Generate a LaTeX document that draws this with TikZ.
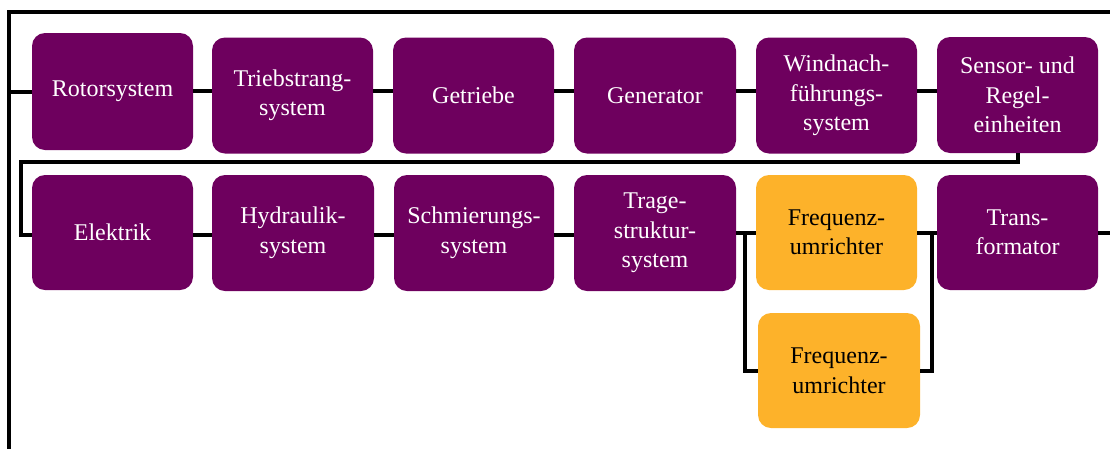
\documentclass[tikz,border=0pt]{standalone}
\usepackage{fontspec}
\setmainfont{Liberation Serif}
\definecolor{boxpurple}{RGB}{110,0,94}
\definecolor{boxorange}{RGB}{253,178,42}
\tikzset{
  unit/.style={rounded corners=13pt, inner sep=0pt, align=center,
    minimum width=161pt, minimum height=116pt,
    font=\fontsize{24}{29.5}\selectfont},
  mainunit/.style={unit, fill=boxpurple, text=white},
  altunit/.style={unit, fill=boxorange, text=black},
  link/.style={line width=4pt, black}
}
\begin{document}
\begin{tikzpicture}[x=1pt, y=-1pt]
\useasboundingbox (0,0) rectangle (1110,448);

% first row
\node[mainunit, minimum height=117pt] (rotor) at (112.5,91.5) {Rotorsystem};
\node[mainunit] (trieb) at (292.5,95.5) {Triebstrang-\\system};
\node[mainunit] (getr)  at (473.5,95.5) {Getriebe};
\node[mainunit, minimum width=162pt] (gen) at (655,95.5) {Generator};
\node[mainunit] (wind)  at (836.5,95.5) {Windnach-\\führungs-\\system};
\node[mainunit] (sens)  at (1017.5,95) {Sensor- und\\Regel-\\einheiten};

% second row
\node[mainunit, minimum height=115pt] (elek) at (112.5,232.5) {Elektrik};
\node[mainunit, minimum width=162pt] (hydr) at (293,233) {Hydraulik-\\system};
\node[mainunit, minimum width=160pt] (schm) at (474,233) {Schmierungs-\\system};
\node[mainunit, minimum width=162pt] (trag) at (655,233) {Trage-\\struktur-\\system};
\node[altunit, minimum height=115pt] (freqA) at (836.5,232.5) {Frequenz-\\umrichter};
\node[mainunit, minimum height=115pt] (trafo) at (1017.5,232.5) {Trans-\\formator};
\node[altunit, minimum width=162pt, minimum height=115pt] (freqB) at (839,370.5) {Frequenz-\\umrichter};

% reference lines and frame corners
\coordinate (rowA) at (0,91);
\coordinate (rowB) at (0,235);
\coordinate (frTR) at (1112,12);
\coordinate (frTL) at (9,12);
\coordinate (frBL) at (9,450);
\coordinate (turnL) at (21,162);
\coordinate (brL) at (745,0);
\coordinate (brR) at (932,0);
\coordinate (outR) at (1112,0);

% outer frame
\draw[link] (frTR) -- (frTL) -- (frBL);
\draw[link] (frTL |- rotor.west) -- (rotor.west);

% first row links
\draw[link] (rotor.east |- rowA) -- (trieb.west |- rowA);
\draw[link] (trieb.east |- rowA) -- (getr.west |- rowA);
\draw[link] (getr.east |- rowA) -- (gen.west |- rowA);
\draw[link] (gen.east |- rowA) -- (wind.west |- rowA);
\draw[link] (wind.east |- rowA) -- (sens.west |- rowA);

% wrap to second row
\draw[link] (sens.south) |- (turnL) |- (elek.west |- rowB) -- (elek.west |- rowB);

% second row links
\draw[link] (elek.east |- rowB) -- (hydr.west |- rowB);
\draw[link] (hydr.east |- rowB) -- (schm.west |- rowB);
\draw[link] (schm.east |- rowB) -- (trag.west |- rowB);
\draw[link] (trag.east |- freqA.west) -- (freqA.west);
\draw[link] (freqA.east) -- (trafo.west);
\draw[link] (trafo.east) -- (outR |- trafo.east);

% parallel converter branch
\draw[link] (brL |- freqA.west) |- (freqB.west);
\draw[link] (brR |- freqA.east) |- (freqB.east);
\end{tikzpicture}
\end{document}
